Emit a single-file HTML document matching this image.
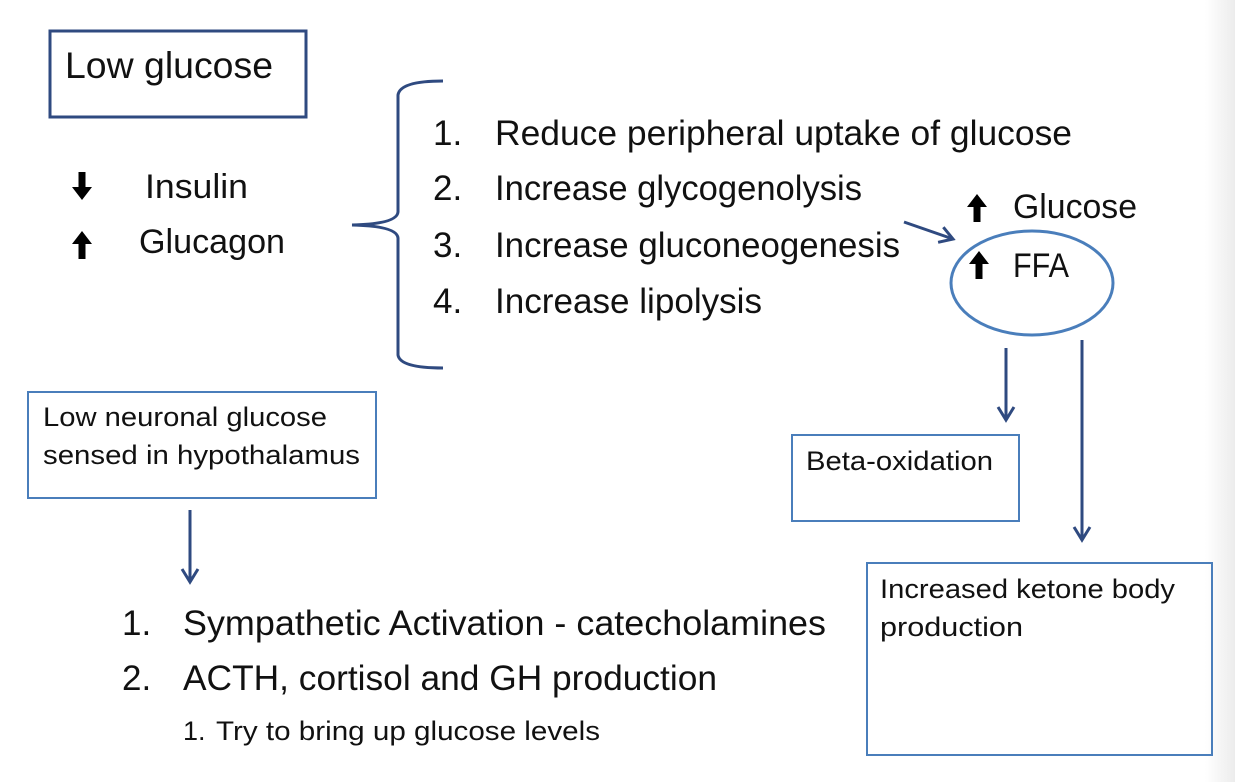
<!DOCTYPE html>
<html><head><meta charset="utf-8"><style>
html,body{margin:0;padding:0;background:#fff;}
svg{display:block;}
text{font-family:"Liberation Sans",sans-serif;fill:#111;}
</style></head><body>
<svg width="1235" height="782" viewBox="0 0 1235 782" xmlns="http://www.w3.org/2000/svg">
<defs>
<linearGradient id="g" x1="0" x2="1"><stop offset="0" stop-color="#fff"/><stop offset="1" stop-color="#ececec"/></linearGradient>
<marker id="ah" markerWidth="20" markerHeight="20" refX="15" refY="10" orient="auto" markerUnits="userSpaceOnUse">
<path d="M2,2 L15,10 L2,18" fill="none" stroke="#2f4a80" stroke-width="3"/></marker>
<g id="up"><path d="M0,-14 L-10,-1 L-3.5,-1 L-3.5,14 L3.5,14 L3.5,-1 L10,-1 Z" fill="#000"/></g>
</defs>
<rect x="1205" y="0" width="30" height="782" fill="url(#g)"/>
<rect x="50" y="31" width="256" height="86" fill="none" stroke="#2f4a80" stroke-width="3"/>
<text x="65" y="78" font-size="37" textLength="208" lengthAdjust="spacingAndGlyphs">Low glucose</text>
<use href="#up" transform="translate(82,186) rotate(180)"/>
<text x="145" y="198" font-size="34" textLength="103" lengthAdjust="spacingAndGlyphs">Insulin</text>
<use href="#up" transform="translate(82,245)"/>
<text x="139" y="253" font-size="34" textLength="146" lengthAdjust="spacingAndGlyphs">Glucagon</text>
<path d="M443,81 Q400,81 398,95 L398,212 Q397,224 352,225 Q397,226 398,238 L398,355 Q400,368 443,368" fill="none" stroke="#2f4a80" stroke-width="3"/>
<g font-size="35">
<text x="433" y="145">1.</text><text x="495" y="145" textLength="577" lengthAdjust="spacingAndGlyphs">Reduce peripheral uptake of glucose</text>
<text x="433" y="200">2.</text><text x="495" y="200" textLength="367" lengthAdjust="spacingAndGlyphs">Increase glycogenolysis</text>
<text x="433" y="257">3.</text><text x="495" y="257" textLength="405" lengthAdjust="spacingAndGlyphs">Increase gluconeogenesis</text>
<text x="433" y="313">4.</text><text x="495" y="313" textLength="267" lengthAdjust="spacingAndGlyphs">Increase lipolysis</text>
</g>
<line x1="904" y1="222" x2="953" y2="239" stroke="#2f4a80" stroke-width="3" marker-end="url(#ah)"/>
<use href="#up" transform="translate(977,208)"/>
<text x="1013" y="218" font-size="34" textLength="124" lengthAdjust="spacingAndGlyphs">Glucose</text>
<ellipse cx="1032" cy="283" rx="81" ry="52" fill="none" stroke="#4a7ebb" stroke-width="3"/>
<use href="#up" transform="translate(979,265)"/>
<text x="1013" y="277" font-size="34" textLength="56" lengthAdjust="spacingAndGlyphs">FFA</text>
<line x1="1006" y1="348" x2="1006" y2="420" stroke="#2f4a80" stroke-width="3" marker-end="url(#ah)"/>
<line x1="1082" y1="340" x2="1082" y2="540" stroke="#2f4a80" stroke-width="3" marker-end="url(#ah)"/>
<rect x="792" y="435" width="227" height="86" fill="none" stroke="#4a7ebb" stroke-width="2"/>
<text x="806" y="470" font-size="27" textLength="187" lengthAdjust="spacingAndGlyphs">Beta-oxidation</text>
<rect x="867" y="563" width="345" height="192" fill="none" stroke="#4a7ebb" stroke-width="2"/>
<text x="880" y="598" font-size="27" textLength="295" lengthAdjust="spacingAndGlyphs">Increased ketone body</text>
<text x="880" y="636" font-size="27" textLength="143" lengthAdjust="spacingAndGlyphs">production</text>
<rect x="28" y="392" width="348" height="106" fill="none" stroke="#4a7ebb" stroke-width="2"/>
<text x="43" y="426" font-size="27" textLength="284" lengthAdjust="spacingAndGlyphs">Low neuronal glucose</text>
<text x="43" y="464" font-size="27" textLength="317" lengthAdjust="spacingAndGlyphs">sensed in hypothalamus</text>
<line x1="190" y1="510" x2="190" y2="582" stroke="#2f4a80" stroke-width="3" marker-end="url(#ah)"/>
<g font-size="35">
<text x="122" y="635">1.</text><text x="183" y="635" textLength="643" lengthAdjust="spacingAndGlyphs">Sympathetic Activation - catecholamines</text>
<text x="122" y="690">2.</text><text x="183" y="690" textLength="534" lengthAdjust="spacingAndGlyphs">ACTH, cortisol and GH production</text>
</g>
<text x="183" y="740" font-size="27">1.</text>
<text x="216" y="740" font-size="27" textLength="384" lengthAdjust="spacingAndGlyphs">Try to bring up glucose levels</text>
</svg>
</body></html>
